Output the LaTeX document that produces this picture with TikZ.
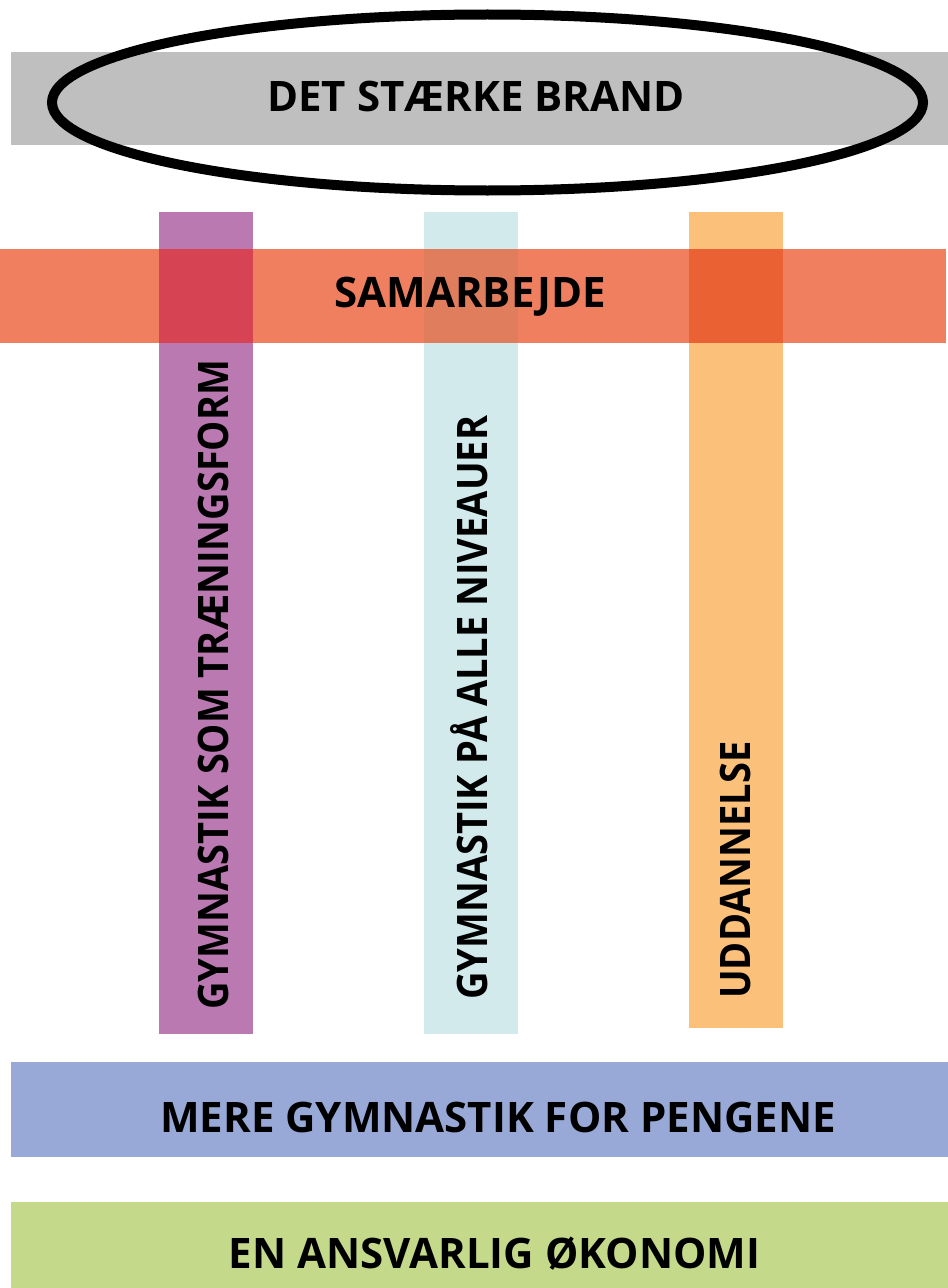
\documentclass[tikz,border=0pt]{standalone}
\usepackage{fontspec}
\setmainfont{Open Sans}
\usetikzlibrary{shapes.geometric}
\definecolor{brandgray}{HTML}{BFBFBF}
\definecolor{teamred}{HTML}{F07F60}
\definecolor{trainpurple}{HTML}{BB79B2}
\definecolor{levelteal}{HTML}{D2EAEC}
\definecolor{eduorange}{HTML}{FBC17A}
\definecolor{moneyblue}{HTML}{98A9D7}
\definecolor{econgreen}{HTML}{C5D98A}
\definecolor{purplemix}{HTML}{D64454}
\definecolor{tealmix}{HTML}{E07D5C}
\definecolor{orangemix}{HTML}{EA6233}

\begin{document}
\begin{tikzpicture}[x=0.75pt,y=-0.75pt,font=\fontsize{31.5}{36}\selectfont\bfseries]
\tikzstyle{bar}=[rectangle,inner sep=0,minimum height=70.5pt]
\tikzstyle{hbar}=[bar,minimum width=702.75pt]
\tikzstyle{vbar}=[bar,minimum width=70.5pt,minimum height=616.5pt]
\tikzstyle{bar text}=[inner sep=0,anchor=base]
\tikzstyle{pillar text}=[inner sep=0,anchor=base west,rotate=90,xscale=0.905]
\useasboundingbox (0,0) rectangle (948,1288);
% top brand
\node[hbar,fill=brandgray,minimum height=69.75pt](brand) at (479.5,98.5){};
\node[ellipse,draw,line width=7.5pt,inner sep=0,minimum width=653.25pt,minimum height=132pt](ring) at (487.5,102.5){};
\node[bar text](brandtxt) at (476,112){DET STÆRKE BRAND};
% pillars
\node[vbar,fill=trainpurple](train) at (206,623){};
\node[vbar,fill=levelteal](level) at (471,623){};
\node[vbar,fill=eduorange,minimum height=612pt](edu) at (736,620){};
% cross bar
\node[bar,fill=teamred,minimum width=709.5pt](team) at (473,296){};
\fill[purplemix] (train.west |- team.north) rectangle (train.east |- team.south);
\fill[tealmix] (level.west |- team.north) rectangle (level.east |- team.south);
\fill[orangemix] (edu.west |- team.north) rectangle (edu.east |- team.south);
\node[bar text](teamtxt) at (470,307){SAMARBEJDE};
\node[pillar text](traintxt) at (228,1010){GYMNASTIK SOM TRÆNINGSFORM};
\node[pillar text](leveltxt) at (487,1000){GYMNASTIK PÅ ALLE NIVEAUER};
\node[pillar text](edutxt) at (750,999){UDDANNELSE};
% base
\node[hbar,fill=moneyblue,minimum height=71.25pt](money) at (479.5,1109.5){};
\node[bar text](moneytxt) at (498,1132){MERE GYMNASTIK FOR PENGENE};
\node[hbar,fill=econgreen](econ) at (479.5,1249){};
\node[bar text](econtxt) at (494.5,1268){EN ANSVARLIG ØKONOMI};
\end{tikzpicture}
\end{document}
